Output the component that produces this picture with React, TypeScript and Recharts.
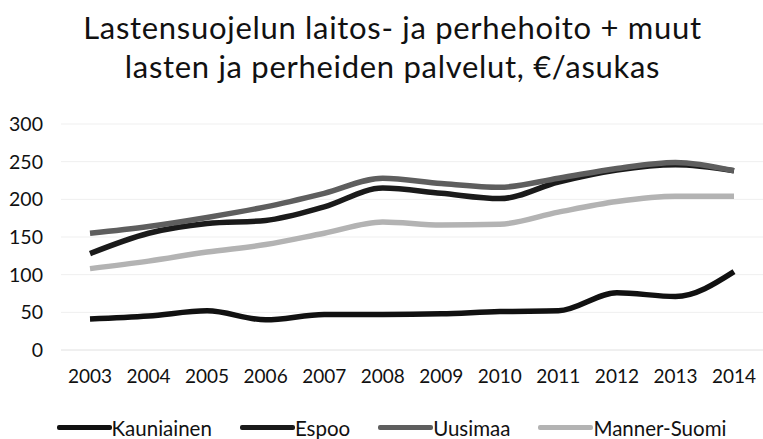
import { LineChart, Line, XAxis, YAxis, CartesianGrid, Legend } from 'recharts';

const years = ['2003', '2004', '2005', '2006', '2007', '2008', '2009', '2010', '2011', '2012', '2013', '2014'];
const kauniainen = [41, 45, 52, 40, 47, 47, 48, 51, 52, 76, 71, 104];
const espoo = [128, 155, 168, 172, 190, 215, 208, 201, 223, 239, 246, 238];
const uusimaa = [155, 164, 176, 190, 208, 228, 221, 216, 228, 241, 249, 238];
const mannerSuomi = [108, 118, 130, 140, 155, 170, 166, 167, 183, 197, 204, 204];
const yTicks = [0, 50, 100, 150, 200, 250, 300];

const series = [
  { key: 'Kauniainen', values: kauniainen, color: '#111111' },
  { key: 'Espoo', values: espoo, color: '#1a1a1a' },
  { key: 'Uusimaa', values: uusimaa, color: '#5e5e5e' },
  { key: 'Manner-Suomi', values: mannerSuomi, color: '#b3b3b3' },
];

const data = years.map((year, i) => {
  const row: Record<string, string | number> = { year };
  series.forEach((s) => {
    row[s.key] = s.values[i];
  });
  return row;
});

const font = 'Lato, "Open Sans", sans-serif';

function LegendContent() {
  return (
    <div
      style={{
        height: 49,
        paddingTop: 26,
        boxSizing: 'border-box',
        display: 'flex',
        justifyContent: 'center',
        gap: 28,
        fontFamily: font,
        fontSize: 20.5,
        lineHeight: '22px',
        color: '#111',
        paddingLeft: 20,
      }}
    >
      {series.map((s) => (
        <div key={s.key} style={{ display: 'flex', alignItems: 'center' }}>
          <div style={{ width: 55, height: 5, background: s.color, borderRadius: 2 }} />
          <span>{s.key}</span>
        </div>
      ))}
    </div>
  );
}

export default function App() {
  return (
    <div style={{ position: 'absolute', left: 0, top: 0, width: 763, height: 439, background: '#fff' }}>
      <div
        style={{
          position: 'absolute',
          left: 0,
          top: 8,
          width: 785,
          textAlign: 'center',
          fontFamily: font,
          fontSize: 31,
          letterSpacing: 0.7,
          lineHeight: '39px',
          color: '#111',
        }}
      >
        Lastensuojelun laitos- ja perhehoito + muut
        <br />
        lasten ja perheiden palvelut, €/asukas
      </div>
      <LineChart width={763} height={439} data={data} margin={{ top: 124, right: 0, bottom: 0, left: 0 }}>
        <CartesianGrid vertical={false} stroke="#efefef" />
        <XAxis
          dataKey="year"
          padding={{ left: 29, right: 29 }}
          axisLine={{ stroke: '#e8e8e8' }}
          tickLine={false}
          tickSize={0}
          tickMargin={20}
          height={40}
          tick={{ fill: '#111', fontSize: 19, fontFamily: font }}
        />
        <YAxis
          domain={[0, 300]}
          ticks={yTicks}
          width={61}
          axisLine={false}
          tickLine={false}
          tickSize={0}
          tickMargin={18}
          tick={{ fill: '#111', fontSize: 19.5, fontFamily: font }}
        />
        <Legend verticalAlign="bottom" content={<LegendContent />} />
        {series.map((s) => (
          <Line
            key={s.key}
            type="monotone"
            dataKey={s.key}
            stroke={s.color}
            strokeWidth={5.5}
            dot={false}
            isAnimationActive={false}
          />
        ))}
      </LineChart>
    </div>
  );
}
